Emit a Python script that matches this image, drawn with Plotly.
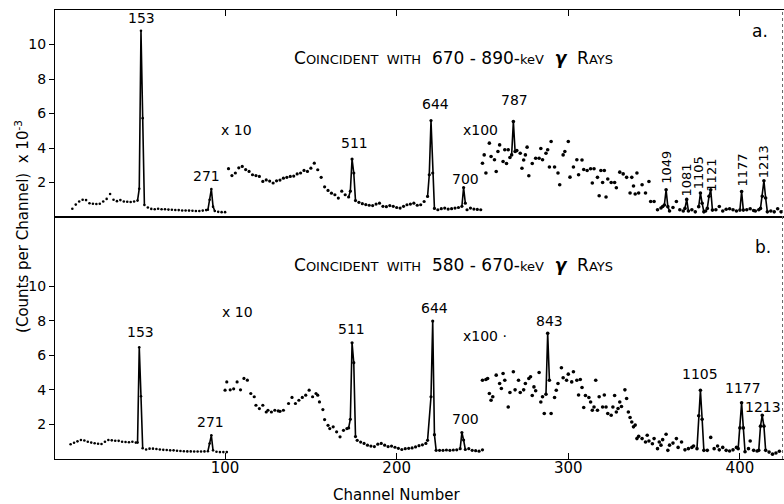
import plotly.graph_objects as go

# ---------------- Panel a (coincident with 670-890 keV) ----------------
a_x1_ch = [11, 13, 15, 17, 19, 21, 23, 25, 27, 29, 31, 33, 35, 37, 39, 41, 43, 45, 47,
           49, 50, 51, 52, 53,
           55, 57, 59, 61, 63, 65, 67, 69, 71, 73, 75, 77, 79, 81, 83, 85, 87, 89,
           90, 91, 92, 93, 94, 96, 98, 100]
a_x1_cnt = [0.48, 0.72, 0.9, 1.0, 0.98, 0.8, 0.77, 0.75, 0.77, 0.9, 1.05, 1.33, 1.0, 0.92, 0.98, 0.9, 0.88, 0.87, 0.9,
            0.95, 1.64, 10.8, 5.73, 0.7,
            0.55, 0.47, 0.45, 0.48, 0.45, 0.45, 0.43, 0.42, 0.41, 0.4, 0.38, 0.38, 0.37, 0.36, 0.35, 0.35, 0.37, 0.4,
            0.42, 1.0, 1.62, 0.6, 0.35, 0.3, 0.28, 0.28]

a_x10_ch = [102, 104, 106, 108, 110, 112, 114, 116, 118, 120, 122, 124, 126, 128, 130, 132, 134, 136, 138, 140,
            142, 144, 146, 148, 150, 152, 154, 156, 158, 160, 162, 164, 166, 168, 170,
            172, 173, 174, 175, 176,
            178, 180, 182, 184, 186, 188, 190, 192, 194, 196, 198, 200, 202, 204, 206, 208, 210, 212, 214, 216,
            218, 219, 220, 221, 222,
            224, 226, 228, 230, 232, 234, 236, 238, 239, 240, 241, 243, 245, 247, 249]
a_x10_cnt = [2.8, 2.4, 2.55, 2.85, 2.93, 2.75, 2.64, 2.45, 2.4, 2.35, 2.06, 2.15, 2.08, 1.97, 2.1, 2.14, 2.25, 2.3, 2.35, 2.37,
             2.5, 2.55, 2.7, 2.64, 2.83, 3.12, 2.74, 2.3, 1.75, 1.54, 1.38, 1.29, 1.1, 1.5, 1.29,
             1.16, 1.5, 3.36, 2.55, 0.95,
             0.85, 0.77, 0.72, 0.68, 0.66, 0.75, 0.8, 0.62, 0.6, 0.66, 0.62, 0.55, 0.52, 0.62, 0.71, 0.75, 0.8, 0.68, 0.71, 0.9,
             1.19, 2.45, 5.59, 2.55, 0.5,
             0.42, 0.48, 0.52, 0.46, 0.48, 0.52, 0.55, 0.62, 1.71, 0.8, 0.42, 0.52, 0.46, 0.44, 0.42]

a_x100_ch = [250, 251, 252, 254, 255, 257, 258, 259, 260, 262, 263, 264, 265, 266,
             267, 268, 269,
             270, 272, 273, 274, 275, 276, 277, 279, 281, 283, 284, 285, 287, 288, 289, 290, 292, 294, 295, 297, 298,
             300, 301, 303, 305, 306, 308, 309, 311, 313, 314, 315, 317, 318, 319, 320, 321, 322, 323, 325, 327, 328,
             330, 332, 334, 336, 337, 338, 339, 340, 341, 343, 345, 347, 348, 350, 352, 354, 355,
             356, 357, 358, 359, 361, 363, 365, 367,
             368, 369, 370, 372, 374,
             376, 377, 378, 379, 380, 381, 382, 383, 384,
             386, 388, 390, 392, 394, 396, 398,
             400, 401, 402, 404, 406, 408, 409, 411,
             412, 413, 414, 415, 416, 418, 420, 422, 424]
a_x100_cnt = [3.12, 3.6, 2.55, 4.28, 3.51, 3.32, 2.64, 3.8, 4.18, 3.22, 3.9, 3.1, 3.9, 3.45,
              3.6, 5.53, 3.8,
              3.85, 3.7, 2.83, 3.3, 3.6, 4.05, 2.39, 3.1, 3.41, 3.41, 3.97, 3.32, 3.7, 3.9, 2.9, 4.38, 2.9, 2.55, 1.87, 3.6, 3.8,
              4.38, 2.31, 2.9, 3.32, 2.45, 3.3, 2.75, 2.7, 2.8, 1.97, 2.8, 2.3, 1.23, 2.7, 2.0, 2.7, 1.16, 2.2, 2.0, 2.0, 1.7,
              2.6, 2.5, 2.3, 1.39, 2.3, 1.8, 1.33, 2.55, 1.39, 1.87, 1.39, 2.06, 0.9, 0.9, 0.42, 0.52, 0.61,
              0.7, 1.58, 0.6, 0.35, 0.55, 0.9, 0.42, 0.35,
              0.5, 1.02, 0.35, 0.42, 0.3,
              0.6, 1.39, 0.8, 0.3, 0.35, 0.5, 1.2, 1.58, 0.4,
              0.42, 0.61, 0.35, 0.45, 0.48, 0.42, 0.35,
              0.4, 1.48, 0.4, 0.42, 0.48, 0.38, 0.35, 0.42,
              0.5, 1.2, 2.1, 1.1, 0.3, 0.35, 0.3, 0.48, 0.3]

a_peak_windows = [(49, 53), (90, 94), (172, 176), (218, 222), (238, 240), (267, 269),
                  (356, 359), (368, 370), (376, 379), (381, 384), (400, 402), (412, 416)]

a_labels = ["153", "271", "511", "644", "700", "787"]
a_label_ch = [51.4, 89.4, 175.4, 222.4, 239.9, 268.8]
a_label_y = [11.54, 2.35, 4.29, 6.57, 2.2, 6.8]
a_vlabels = ["1049", "1081", "1105", "1121", "1177", "1213"]
a_vlabel_ch = [357.4, 368.6, 375.7, 383.7, 401.7, 414.2]
a_vlabel_y = [2.9, 2.12, 2.55, 2.45, 2.74, 3.19]

# ---------------- Panel b (coincident with 580-670 keV) ----------------
b_x1_ch = [10, 12, 14, 16, 18, 20, 22, 24, 26, 28, 30, 32, 34, 36, 38, 40, 42, 44, 46, 48,
           49, 50, 51, 52,
           54, 56, 58, 60, 62, 64, 66, 68, 70, 72, 74, 76, 78, 80, 82, 84, 86, 88,
           90, 91, 92, 93, 95, 97, 99, 101]
b_x1_cnt = [0.85, 0.94, 1.02, 1.1, 1.07, 1.0, 0.95, 0.91, 0.88, 0.87, 1.0, 1.1, 1.08, 1.06, 1.05, 1.0, 0.98, 0.97, 1.0, 0.95,
            0.95, 6.46, 3.63, 0.62,
            0.55, 0.6, 0.6, 0.58, 0.55, 0.53, 0.52, 0.5, 0.5, 0.48, 0.46, 0.45, 0.44, 0.44, 0.43, 0.43, 0.43, 0.44,
            0.45, 0.9, 1.37, 0.5, 0.42, 0.4, 0.4, 0.4]

b_x10_ch = [100, 101, 103, 105, 107, 109, 111, 113, 115, 117, 118, 120, 122, 124, 125, 127, 129, 131, 132, 134,
            137, 139, 141, 143, 145, 147, 149, 151, 153, 154, 155, 157, 158, 160, 161, 163, 165, 167, 169, 171,
            172, 173, 174, 175, 176,
            177, 179, 181, 183, 185, 187, 189, 191, 193, 195, 197, 199, 201, 203, 205, 207, 209, 211, 213, 215, 217,
            218, 220, 221, 222, 223,
            225, 227, 229, 231, 233, 235,
            237, 238, 239, 240,
            242, 244, 246, 248, 250]
b_x10_cnt = [3.98, 4.46, 4.0, 4.06, 4.46, 4.0, 4.66, 4.56, 3.79, 3.6, 3.11, 2.92, 3.11, 2.72, 2.82, 2.72, 2.82, 2.78, 2.76, 2.82,
             3.21, 3.56, 3.21, 3.4, 3.56, 3.69, 3.98, 3.6, 3.79, 3.69, 3.3, 2.86, 2.28, 1.95, 1.76, 1.86, 1.57, 1.28, 1.66, 1.76,
             1.8, 2.3, 6.72, 5.57, 1.3,
             1.08, 0.98, 0.9, 0.8, 0.75, 0.72, 0.86, 0.9, 0.8, 0.72, 0.75, 0.68, 0.62, 0.55, 0.6, 0.62, 0.64, 0.7, 0.77, 0.82, 0.9,
             1.08, 3.6, 7.98, 1.41, 0.5,
             0.5, 0.5, 0.52, 0.5, 0.52, 0.53,
             0.6, 1.53, 1.1, 0.55,
             0.6, 0.5, 0.48, 0.45, 0.53]

b_x100_ch = [250, 252, 253, 254, 255, 256, 258, 260, 261, 262, 263, 265, 266, 268, 269, 271, 272, 274, 275, 277, 278,
             279, 280, 281, 283, 284, 285, 286,
             287, 288, 289,
             290, 292, 293, 294, 296, 297, 299, 300, 302, 303, 305, 306, 307, 308, 309, 310, 312, 313, 314, 315, 316,
             317, 318, 320, 321, 322, 323, 325, 326, 327, 328, 329, 330, 331, 333, 334, 335,
             336, 337, 338, 339, 340, 341, 343, 345, 346, 347, 349, 350, 352, 353, 354, 355, 357, 358, 359, 361, 363,
             364, 366, 368, 370, 372, 373,
             375, 376, 377, 378, 379,
             381, 383, 385, 387, 388, 390, 392, 394, 396, 398,
             399, 400, 401, 402, 403,
             405, 406, 408, 410,
             411, 412, 413, 414, 415,
             417, 419, 421, 423]
b_x100_cnt = [4.56, 4.6, 4.66, 3.79, 3.4, 3.6, 4.85, 4.37, 4.08, 4.95, 4.56, 3.01, 3.85, 5.05, 4.0, 4.56, 3.85, 4.0, 4.37, 4.66, 4.76,
              3.67, 4.17, 3.95, 5.0, 3.3, 3.6, 2.63,
              3.75, 7.27, 4.56,
              2.63, 3.56, 3.98, 4.37, 5.28, 4.7, 4.56, 4.91, 4.46, 5.05, 4.56, 3.7, 4.6, 4.14, 2.98, 3.67, 3.56, 3.3, 2.82, 3.01, 4.56,
              2.82, 3.6, 3.01, 3.7, 3.01, 2.63, 2.53, 3.01, 3.67, 2.72, 2.92, 3.3, 3.04, 4.0, 3.5, 2.72,
              2.4, 2.14, 1.86, 1.96, 1.18, 1.31, 1.18, 0.98, 1.37, 1.04, 0.88, 1.18, 0.6, 0.98, 0.8, 1.12, 1.43, 0.5, 0.8, 0.92, 1.18,
              0.67, 0.98, 0.53, 0.6, 0.67, 0.75,
              0.6, 2.5, 3.98, 2.3, 0.5,
              0.5, 1.25, 0.6, 0.75, 0.53, 0.67, 0.5, 0.46, 0.53, 0.67,
              0.6, 1.8, 3.25, 1.8, 0.42,
              0.6, 1.04, 0.5, 0.46,
              0.5, 1.9, 2.53, 1.9, 0.5,
              0.4, 0.28, 0.35, 0.45]

b_peak_windows = [(49, 52), (90, 93), (172, 176), (218, 223), (237, 240), (287, 289),
                  (375, 379), (399, 403), (411, 415)]

b_labels = ["153", "271", "511", "644", "700", "843", "1105", "1177", "1213"]
b_label_ch = [51.0, 91.7, 173.9, 221.8, 239.9, 289.0, 376.5, 401.6, 413.4]
b_label_y = [7.36, 2.14, 7.5, 8.72, 2.3, 7.98, 4.89, 4.08, 3.01]

# tick values
x_ticks = [100, 200, 300, 400]
y_ticks = [2, 4, 6, 8, 10]

FONT = "DejaVu Sans"
fig = go.Figure()


def add_panel(segments, windows, xa, ya):
    sizes = [2.6, 3.2, 3.6]
    for (chs, vals), s in zip(segments, sizes):
        fig.add_trace(go.Scatter(x=chs, y=vals, mode="markers", xaxis=xa, yaxis=ya,
                                 marker=dict(color="black", size=s), showlegend=False,
                                 hoverinfo="skip"))
    lx, ly = [], []
    for lo, hi in windows:
        for chs, vals in segments:
            for c, v in zip(chs, vals):
                if lo <= c <= hi:
                    lx.append(c)
                    ly.append(v)
        lx.append(None)
        ly.append(None)
    fig.add_trace(go.Scatter(x=lx, y=ly, mode="lines", xaxis=xa, yaxis=ya,
                             line=dict(color="black", width=1.6), showlegend=False,
                             hoverinfo="skip", connectgaps=False))


add_panel([(a_x1_ch, a_x1_cnt), (a_x10_ch, a_x10_cnt), (a_x100_ch, a_x100_cnt)],
          a_peak_windows, "x2", "y2")
add_panel([(b_x1_ch, b_x1_cnt), (b_x10_ch, b_x10_cnt), (b_x100_ch, b_x100_cnt)],
          b_peak_windows, "x", "y")

LBL = dict(size=14, color="black", family=FONT)
VLBL = dict(size=13, color="black", family=FONT)
ann = []
for t, c, v in zip(a_labels, a_label_ch, a_label_y):
    ann.append(dict(x=c, y=v, xref="x2", yref="y2", text=t, showarrow=False, font=LBL))
for t, c, v in zip(a_vlabels, a_vlabel_ch, a_vlabel_y):
    ann.append(dict(x=c, y=v, xref="x2", yref="y2", text=t, showarrow=False, textangle=-90, font=VLBL))
for t, c, v in zip(b_labels, b_label_ch, b_label_y):
    ann.append(dict(x=c, y=v, xref="x", yref="y", text=t, showarrow=False, font=LBL))

ann += [
    dict(x=106.8, y=5.06, xref="x2", yref="y2", text="x 10", showarrow=False, font=LBL),
    dict(x=248.6, y=5.02, xref="x2", yref="y2", text="x100", showarrow=False, font=LBL),
    dict(x=107.2, y=8.52, xref="x", yref="y", text="x 10", showarrow=False, font=LBL),
    dict(x=251.5, y=7.11, xref="x", yref="y", text="x100 \u00b7", showarrow=False, font=LBL),
    dict(x=411.9, y=10.76, xref="x2", yref="y2", text="a.", showarrow=False,
         font=dict(size=17, color="black", family=FONT)),
    dict(x=413.4, y=12.29, xref="x", yref="y", text="b.", showarrow=False,
         font=dict(size=17, color="black", family=FONT)),
]

sc = "<span style='font-size:13px'>"
sp = "&nbsp;&nbsp;"
title_a = ("C" + sc + "OINCIDENT" + sp + "WITH</span>" + sp + "670 - 890-" + sc + "keV</span>"
           + sp + "<i><b>\u03b3</b></i>" + sp + "R" + sc + "AYS</span>")
title_b = ("C" + sc + "OINCIDENT" + sp + "WITH</span>" + sp + "580 - 670-" + sc + "keV</span>"
           + sp + "<i><b>\u03b3</b></i>" + sp + "R" + sc + "AYS</span>")
ann.append(dict(x=232.9, y=9.23, xref="x2", yref="y2", text=title_a, showarrow=False,
                font=dict(size=17, color="black", family=FONT)))
ann.append(dict(x=232.9, y=11.23, xref="x", yref="y", text=title_b, showarrow=False,
                font=dict(size=17, color="black", family=FONT)))

ann.append(dict(x=-0.0453, y=0.519, xref="paper", yref="paper", textangle=-90,
                xanchor="center", yanchor="middle",
                text="(Counts per Channel)  x 10<sup>-3</sup>", showarrow=False,
                font=dict(size=15, color="black", family=FONT)))
ann.append(dict(x=200, y=-0.0802, xref="x", yref="paper", text="Channel Number",
                xanchor="center", yanchor="middle",
                showarrow=False, font=dict(size=15, color="black", family=FONT)))

x_range = [0.9, 425.7]
split = 242 / 449

fig.update_layout(
    width=784, height=504,
    margin=dict(l=55, r=0, t=10, b=45),
    paper_bgcolor="white", plot_bgcolor="white",
    font=dict(family=FONT, color="black"),
    annotations=ann,
    xaxis=dict(domain=[0, 1], anchor="y", range=x_range, tickvals=x_ticks,
               ticks="inside", ticklen=6, tickwidth=1.2, tickcolor="black",
               showline=True, linecolor="black", linewidth=1.2, mirror=True,
               showgrid=False, zeroline=False, tickfont=dict(size=15, family=FONT),
               ticklabelstandoff=-5),
    yaxis=dict(domain=[0, split], anchor="x", range=[0, 14], tickvals=y_ticks,
               ticks="outside", ticklen=5, tickcolor="black", showline=True,
               linecolor="black", linewidth=1.2, showgrid=False, zeroline=False,
               tickfont=dict(size=14, family=FONT)),
    xaxis2=dict(domain=[0, 1], anchor="y2", matches="x", range=x_range, tickvals=x_ticks,
                side="top", ticks="inside", ticklen=6, tickwidth=1.2, tickcolor="black",
                showticklabels=False, showline=True, linecolor="black", linewidth=1.2,
                mirror=True, showgrid=False, zeroline=False),
    yaxis2=dict(domain=[split, 1], anchor="x2", range=[0, 12], tickvals=y_ticks,
                ticks="outside", ticklen=5, tickcolor="black", showline=True,
                linecolor="black", linewidth=1.2, showgrid=False, zeroline=False,
                tickfont=dict(size=14, family=FONT)),
    shapes=[dict(type="line", xref="paper", yref="paper", x0=0.998, x1=0.998, y0=0, y1=1,
                 line=dict(color="#666", width=1, dash="dot"))],
)

fig.write_html("out.html", config={"displayModeBar": False},
               post_script="document.body.style.margin='0';")
